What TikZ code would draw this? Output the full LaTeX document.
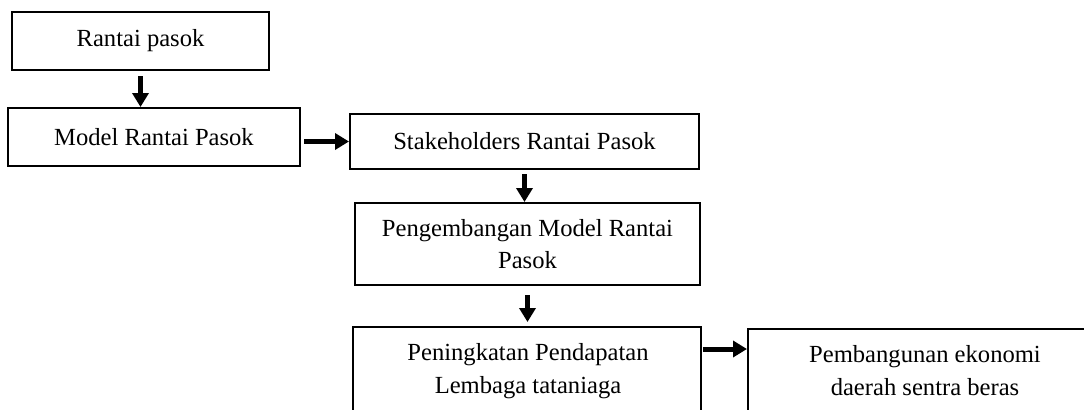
\documentclass[tikz,border=0pt]{standalone}
\usepackage{fontspec}
\setmainfont{Liberation Serif}
\usetikzlibrary{arrows.meta,calc}
\tikzset{
  box/.style={draw, line width=1pt, inner sep=0pt, align=center, font=\fontsize{12.3}{16.2}\selectfont},
  txt/.style={inner sep=0pt, align=center, font=\fontsize{12.3}{16.5}\selectfont},
  arr/.style={line width=2.5pt, -{Triangle[length=7pt,width=8pt]}},
}
\begin{document}
\begin{tikzpicture}[x=0.5pt,y=-0.5pt]
\useasboundingbox (0,0) rectangle (1084,409);
\fill[white] (0,0) rectangle (1084,409);
\clip (0,0) rectangle (1084,409);
\node[box, minimum width=128.5pt, minimum height=29pt] (b1) at (140.5,41) {Rantai pasok};
\node[box, minimum width=146pt, minimum height=29pt] (b2) at (154,137) {Model Rantai Pasok};
\node[box, minimum width=174.5pt, minimum height=27.5pt] (b3) at (524.5,141.5) {Stakeholders Rantai Pasok};
\node[box, minimum width=172.5pt, minimum height=41pt] (b4) at (527.5,244) {Pengembangan Model Rantai\\Pasok};
\node[box, minimum width=174pt, minimum height=56.5pt] (p5) at (527,383.5) {};
\node[txt, anchor=base] (t5) at (528,393) {Peningkatan Pendapatan\\Lembaga tataniaga};
\node[box, minimum width=177pt, minimum height=55.5pt] (p6) at (925,384.5) {};
\node[txt, anchor=base] (t6) at (925,395) {Pembangunan ekonomi\\daerah sentra beras};
\draw[arr] ([yshift=-2.5pt]b1.south) -- (b1.south |- b2.north);
\draw[arr] (b2.east |- b3.west) ++(3,0) -- (b3.west);
\draw[arr] ([yshift=-2pt]b3.south) -- (b3.south |- b4.north);
\draw[arr] ([yshift=-4.5pt]b4.south) -- ([yshift=2pt]b4.south |- p5.north);
\coordinate (a5) at ($(p5.north east)+(1,23)$);
\draw[arr] (a5) -- (a5 -| p6.west);
\end{tikzpicture}
\end{document}
